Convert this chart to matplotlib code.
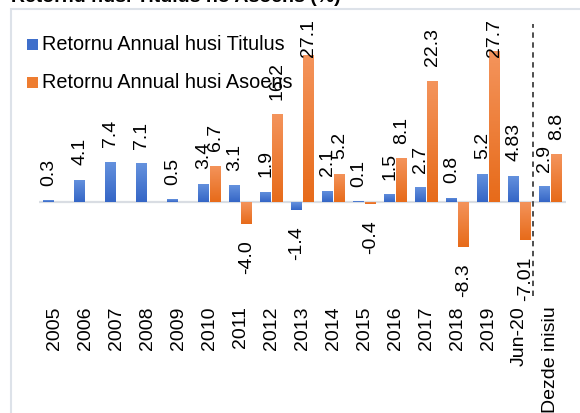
import numpy as np
import matplotlib
matplotlib.use("Agg")
import matplotlib.pyplot as plt
from matplotlib.patches import Rectangle

plt.rcParams['font.family'] = ['Liberation Sans', 'DejaVu Sans']

categories = ["2005", "2006", "2007", "2008", "2009", "2010", "2011", "2012", "2013",
              "2014", "2015", "2016", "2017", "2018", "2019", "Jun-20", "Dezde inisiu"]
titulus = [0.3, 4.1, 7.4, 7.1, 0.5, 3.4, 3.1, 1.9, -1.4, 2.1, 0.1, 1.5, 2.7, 0.8, 5.2, 4.83, 2.9]
asoens = [np.nan, np.nan, np.nan, np.nan, np.nan, 6.7, -4.0, 16.2, 27.1, 5.2, -0.4, 8.1, 22.3,
          -8.3, 27.7, -7.01, 8.8]
series_names = ["Retornu Annual husi Titulus", "Retornu Annual husi Asoens"]
title = "Retornu husi Titulus no Asoens (%)"

W, H = 580, 414
fig = plt.figure(figsize=(W / 100, H / 100), dpi=100)

# chart frame
fig.patches.append(Rectangle((11 / W, -0.1), 1.2, (H - 10) / H + 0.1, transform=fig.transFigure,
                             fill=False, edgecolor='#dde2e9', lw=1.5, zorder=0))

ymin, ymax = -18.5, 30
zero_px = 203
ppu = 5.44
top_px = zero_px - ymax * ppu
bot_px = zero_px - ymin * ppu
ax = fig.add_axes([39 / W, (H - bot_px) / H, 527 / W, (bot_px - top_px) / H])
ax.set_xlim(-0.5, len(categories) - 0.5)
ax.set_ylim(ymin, ymax)
for s in ax.spines.values():
    s.set_visible(False)
ax.set_yticks([])
x = np.arange(len(categories))
ax.set_xticks(x)
ax.set_xticklabels(categories, rotation=90, fontsize=14, va='top', ha='center')
ax.tick_params(axis='x', length=0, pad=2)
ax.patch.set_alpha(0)

ax.axhline(0, color='#d9dde3', lw=1.6, zorder=1)

bw = 0.35
off = 0.185
blue_grad = ('#6592de', '#3566c6')
orange_grad = ('#f4945c', '#e76b1a')


def grad_bars(bars, cols):
    c1 = np.array(matplotlib.colors.to_rgb(cols[0]))
    c2 = np.array(matplotlib.colors.to_rgb(cols[1]))
    t = np.linspace(0, 1, 64)[:, None]
    img = (c1 * (1 - t) + c2 * t)[:, None, :]
    for b in bars:
        h = b.get_height()
        if not np.isfinite(h):
            continue
        x0 = b.get_x()
        y0, y1 = b.get_y(), b.get_y() + h
        lo, hi = min(y0, y1), max(y0, y1)
        im = ax.imshow(img, extent=[x0, x0 + b.get_width(), lo, hi], origin='upper',
                       aspect='auto', zorder=2)
        im.set_clip_path(b)


b1 = ax.bar(x - off, titulus, width=bw, color=blue_grad[1], zorder=2)
b2 = ax.bar(x + off, asoens, width=bw, color=orange_grad[1], zorder=2)
grad_bars(b1, blue_grad)
grad_bars(b2, orange_grad)


def fmt(v):
    return f"{v:.2f}" if abs(round(v, 1) - v) > 1e-9 else f"{v:.1f}"


OFF_PT = 11
pos_anns = []
for xs, vals in ((x - off, titulus), (x + off, asoens)):
    for xi, v in zip(xs, vals):
        if not np.isfinite(v):
            continue
        pos = v >= 0
        a = ax.annotate(fmt(v), xy=(xi, v), xytext=(0, OFF_PT if pos else -OFF_PT),
                        textcoords='offset points', rotation=90, ha='center',
                        va='bottom' if pos else 'top', fontsize=14, color='#000000',
                        annotation_clip=False, zorder=4)
        if pos:
            pos_anns.append(a)

# dashed separator between Jun-20 and cumulative
ax.axvline(len(categories) - 1.55, ymin=(bot_px - 297) / (bot_px - top_px),
           ymax=(bot_px - 25) / (bot_px - top_px), color='#404040', lw=1.3,
           ls=(0, (3, 2.5)), clip_on=False, zorder=3)

# legend (drawn on top of chart)
for i, (name, col) in enumerate(zip(series_names, ('#3f6fcb', '#ee7d31'))):
    yc = [45, 83][i]
    fig.patches.append(Rectangle((27 / W, (H - yc - 5.5) / H), 11 / W, 11 / H,
                                 transform=fig.transFigure, facecolor=col,
                                 edgecolor='none', zorder=5))
    fig.text(42 / W, (H - yc) / H, name, fontsize=14.3, va='center', ha='left', zorder=6)

fig.text(11 / W, (H - 2.5) / H, title, fontsize=14, fontweight='bold', va='baseline', ha='left')

# keep labels inside the chart area (as the spreadsheet does)
fig.canvas.draw()
r = fig.canvas.get_renderer()
limit = H - 19
for a in pos_anns:
    bb = a.get_window_extent(r)
    if bb.y1 > limit:
        shift = (bb.y1 - limit) * 72 / fig.dpi
        a.xyann = (0, OFF_PT - shift)

fig.savefig("out.png", dpi=100)
